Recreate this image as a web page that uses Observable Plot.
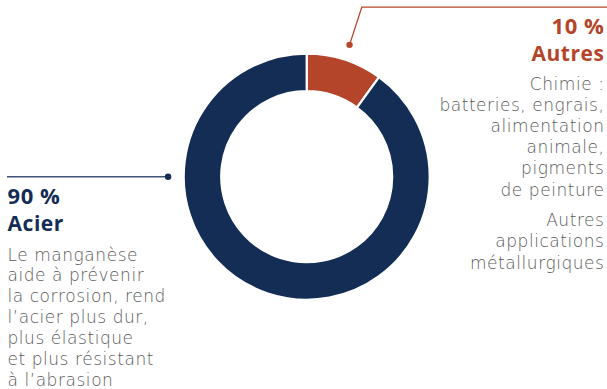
<!DOCTYPE html>
<html>
<head>
<meta charset="utf-8">
<script src="https://cdn.jsdelivr.net/npm/d3@7"></script>
<script src="https://cdn.jsdelivr.net/npm/@observablehq/plot@0.6"></script>
<style>
  html, body { margin: 0; padding: 0; background: #fff; }
  #chart svg { display: block; }
</style>
</head>
<body>
<div id="chart"></div>
<script>
// ---- data ----
const categories = ["Autres", "Acier"];
const shares = [10, 90];
const percentLabels = ["10 %", "90 %"];
const colors = ["#b5452a", "#132d55"];
const acierText = ["Le manganèse", "aide à prévenir", "la corrosion, rend", "l’acier plus dur,", "plus élastique", "et plus résistant", "à l’abrasion"];
const autresText1 = ["Chimie :", "batteries, engrais,", "alimentation", "animale,", "pigments", "de peinture"];
const autresText2 = ["Autres", "applications", "métallurgiques"];

const table = categories.map((c, i) => ({category: c, share: shares[i], label: percentLabels[i], color: colors[i]}));
const pie = d3.pie().sort(null).value(d => d.share);
const slices = pie(table);

const W = 607, H = 389;
const R_PX = 123;               // outer radius in px (layout)
const CX = 306.7, CY = 176.7;   // donut centre in px (layout)
const INNER = 0.695;            // inner/outer ratio

function polar(angle, r) { return [r * Math.sin(angle), r * Math.cos(angle)]; }

function donutMark(index, {x, y}) {
  const cx = x(0), cy = y(0), R = x(1) - x(0);
  const arc = d3.arc().innerRadius(R * INNER).outerRadius(R);
  const g = d3.create("svg:g").attr("transform", `translate(${cx},${cy})`);
  g.selectAll("path").data(slices).join("path")
    .attr("d", arc)
    .attr("fill", d => d.data.color)
    .attr("stroke", "#fff")
    .attr("stroke-width", 2.2);
  return g.node();
}

function leaderMark(index, {x, y}, values, dims) {
  const g = d3.create("svg:g");
  const s = slices[0];
  const mid = (s.startAngle + s.endAngle) / 2;
  const [dx0, dy0] = polar(mid, 1.127);
  const [dx1, dy1] = polar(mid, 1.45);
  const p0 = [x(dx0), y(dy0)], p1 = [x(dx1), y(dy1)];
  g.append("path")
    .attr("d", `M${p0[0]},${p0[1]}L${p1[0]},${p1[1]}L${dims.width},${p1[1]}`)
    .attr("fill", "none").attr("stroke", s.data.color).attr("stroke-width", 1.3);
  g.append("circle").attr("cx", p0[0]).attr("cy", p0[1]).attr("r", 3.2).attr("fill", s.data.color);
  const a = slices[1];
  const [ax, ay] = polar(-Math.PI / 2, 1.127);
  const q0 = [x(ax), y(ay)];
  g.append("path")
    .attr("d", `M${q0[0]},${q0[1]}L7,${q0[1]}`)
    .attr("fill", "none").attr("stroke", "#3e5275").attr("stroke-width", 1.4);
  g.append("circle").attr("cx", q0[0]).attr("cy", q0[1]).attr("r", 3.2).attr("fill", a.data.color);
  return g.node();
}

const bodyFont = "DejaVu Sans";
const headFont = "Open Sans";
const bodyColor = "#5a5a5a";

const chart = Plot.plot({
  width: W,
  height: H,
  margin: 0,
  style: {background: "#fff", overflow: "visible"},
  x: {domain: [-CX / R_PX, (W - CX) / R_PX], axis: null},
  y: {domain: [-(H - CY) / R_PX, CY / R_PX], axis: null},
  marks: [
    donutMark,
    leaderMark,
    Plot.text([table[0].label], {frameAnchor: "top-right", textAnchor: "end", lineAnchor: "bottom", dx: -3, dy: 33,
      fill: colors[0], fontFamily: headFont, fontWeight: 700, fontSize: 22, text: d => d}),
    Plot.text([table[0].category], {frameAnchor: "top-right", textAnchor: "end", lineAnchor: "bottom", dx: -3, dy: 60,
      fill: colors[0], fontFamily: headFont, fontWeight: 700, fontSize: 21, text: d => d}),
    Plot.text([autresText1.join("\n")], {frameAnchor: "top-right", textAnchor: "end", lineAnchor: "bottom", dx: -3, dy: 195,
      lineHeight: 1.247, fill: bodyColor, fontFamily: bodyFont, fontWeight: 300, fontSize: 17, text: d => d}),
    Plot.text([autresText2.join("\n")], {frameAnchor: "top-right", textAnchor: "end", lineAnchor: "bottom", dx: -3, dy: 268,
      lineHeight: 1.247, fill: bodyColor, fontFamily: bodyFont, fontWeight: 300, fontSize: 17, text: d => d}),
    Plot.text([table[1].label], {frameAnchor: "top-left", textAnchor: "start", lineAnchor: "bottom", dx: 7, dy: 203,
      fill: colors[1], fontFamily: headFont, fontWeight: 700, fontSize: 22, text: d => d}),
    Plot.text([table[1].category], {frameAnchor: "top-left", textAnchor: "start", lineAnchor: "bottom", dx: 7, dy: 230,
      fill: colors[1], fontFamily: headFont, fontWeight: 700, fontSize: 21, text: d => d}),
    Plot.text([acierText.join("\n")], {frameAnchor: "top-left", textAnchor: "start", lineAnchor: "bottom", dx: 7, dy: 385,
      lineHeight: 1.224, fill: bodyColor, fontFamily: bodyFont, fontWeight: 300, fontSize: 17, text: d => d})
  ]
});
d3.select(chart).selectAll("text").style("letter-spacing", function() {
  return +this.getAttribute("font-weight") === 700 ? "1px" : "0.55px";
});
document.getElementById("chart").appendChild(chart);
</script>
</body>
</html>
